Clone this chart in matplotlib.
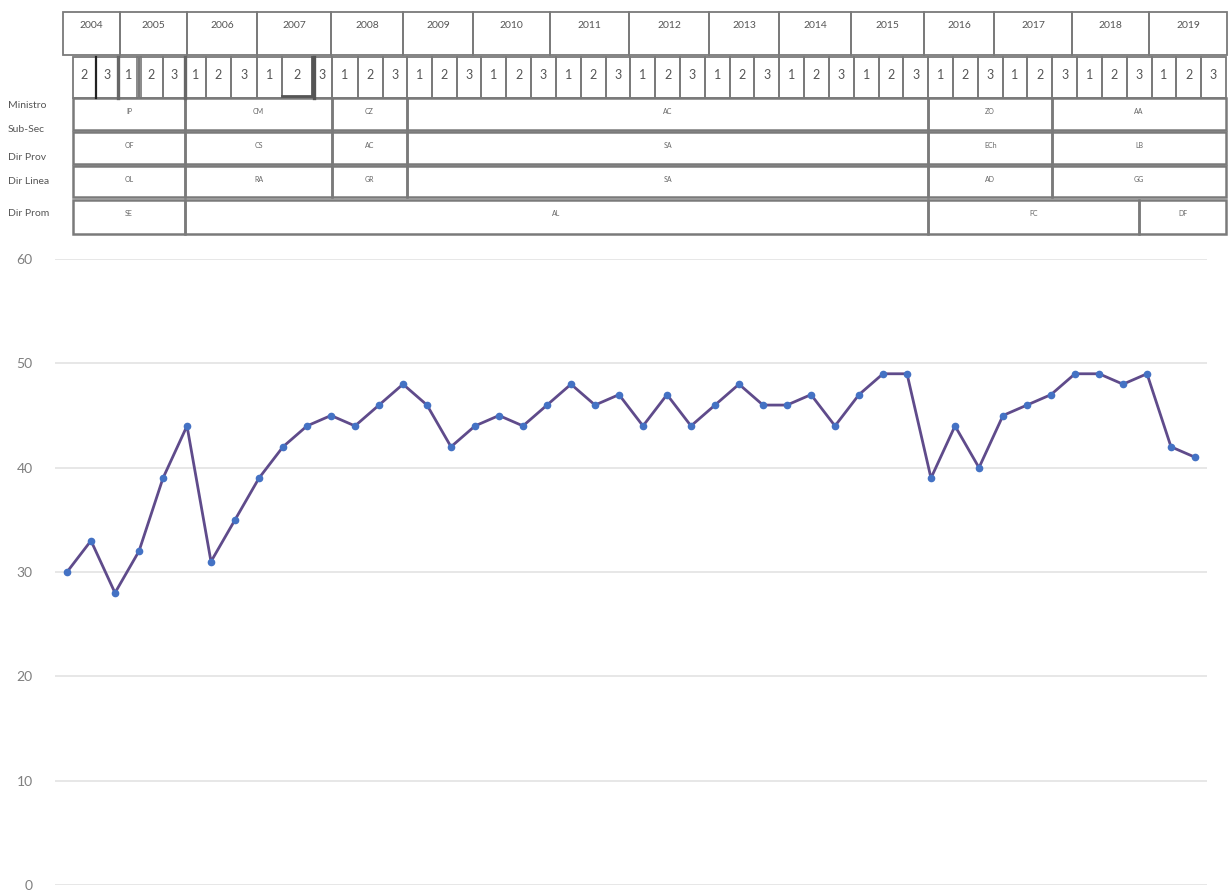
import numpy as np
import matplotlib
matplotlib.use("Agg")
import matplotlib.pyplot as plt
from matplotlib.patches import Rectangle

plt.rcParams['font.family'] = ['Lato', 'DejaVu Sans']

# quarterly series
values = [30, 33, 28, 32, 39, 44, 31, 35, 39, 42, 44, 45, 44, 46, 48, 46,
          42, 44, 45, 44, 46, 48, 46, 47, 44, 47, 44, 46, 48, 46, 46, 47,
          44, 47, 49, 49, 39, 44, 40, 45, 46, 47, 49, 49, 48, 49, 42, 41]
yticks = [0, 10, 20, 30, 40, 50, 60]

# header table contents
years = [str(y) for y in range(2004, 2020)]
quarters = ['2', '3'] + ['1', '2', '3'] * 15
row_labels = ['Ministro', 'Sub-Sec', 'Dir Prov', 'Dir Linea', 'Dir Prom']
ministro = ['IP', 'CM', 'CZ', 'AC', 'ZO', 'AA']
dir_prov = ['OF', 'CS', 'AC', 'SA', 'ECh', 'LB']
dir_linea = ['OL', 'RA', 'GR', 'SA', 'AD', 'GG']
dir_prom = ['SE', 'AL', 'FC', 'DF']
spans_top = [5, 6, 3, 21, 5, 7]          # tenure length in quarters
spans_prom = [5, 30, 8.5, 3.5]

W, H = 1228, 891
fig = plt.figure(figsize=(W / 100, H / 100), dpi=100)

# ---- line chart ----
ax = fig.add_axes([55 / W, 6 / H, 1152 / W, 626 / H])
x = np.arange(len(values))
ax.plot(x, values, color='#5f4b8b', lw=2.0, zorder=3)
ax.plot(x, values, 'o', color='#4472c4', ms=4.5, zorder=4)
ax.set_xlim(-0.5, len(values) - 0.5)
ax.set_ylim(0, 60)
ax.set_yticks(yticks)
ax.set_xticks([])
ax.grid(axis='y', color='#e3e3e3', lw=1.2)
ax.set_axisbelow(True)
for s in ax.spines.values():
    s.set_visible(False)
ax.tick_params(axis='y', length=0, pad=16, labelsize=10, labelcolor='#7f7f7f')

# ---- header table, drawn in pixel coordinates ----
tb = fig.add_axes([0, 0, 1, 1])
tb.set_xlim(0, W)
tb.set_ylim(H, 0)
tb.axis('off')

edge = '#7a7a7a'

def box(x0, x1, y0, y1, lw=1.3, ec=edge):
    tb.add_patch(Rectangle((x0, y0), x1 - x0, y1 - y0, fill=False,
                           ec=ec, lw=lw))

# year row
year_edges = [63, 120, 187, 257, 331, 403, 473, 550, 629, 709, 779, 851,
              924, 994, 1072, 1149, 1227]
for i, yr in enumerate(years):
    box(year_edges[i], year_edges[i + 1], 12, 55)
    tb.text((year_edges[i] + year_edges[i + 1]) / 2, 26, yr, ha='center',
            va='center', fontsize=7.5, color='#555555')

# quarter row: hand-sized cells up to 2008, even cells afterwards
qx = np.concatenate([[73, 96, 118, 139, 163, 185, 206, 231, 257, 282, 313,
                      332, 358, 383],
                     np.linspace(407, 1226, 34)])
for i, q in enumerate(quarters):
    box(qx[i], qx[i + 1], 57, 98)
    tb.text((qx[i] + qx[i + 1]) / 2, 75, q, ha='center', va='center',
            fontsize=9, color='#555555')
# a few heavier strokes in the quarter row
tb.plot([96, 96], [57, 98], color='#222222', lw=1.6)
tb.plot([118, 118], [57, 98], color='#666666', lw=2.4)
tb.plot([137, 137], [57, 98], color='#777777', lw=1.2)
tb.plot([141, 141], [57, 98], color='#777777', lw=1.2)
tb.plot([185, 185], [57, 98], color='#666666', lw=2.4)
tb.plot([282, 312, 312], [96, 96, 57], color='#555555', lw=2.0)
tb.plot([314, 314], [57, 98], color='#555555', lw=2.4)

def qpos(idx):
    return np.interp(idx, np.arange(len(qx)), qx)

def span_row(names, spans, y0, y1):
    start = 0
    for name, n in zip(names, spans):
        x0, x1 = qpos(start), qpos(start + n)
        box(x0, x1, y0, y1, lw=1.8)
        tb.text((x0 + x1) / 2, y0 + 13, name, ha='center', va='center',
                fontsize=5, color='#666666')
        start += n

span_row(ministro, spans_top, 98, 130)
span_row(dir_prov, spans_top, 132, 164)
span_row(dir_linea, spans_top, 166, 197)
span_row(dir_prom, spans_prom, 200, 234)

label_y = [105, 130, 157, 182, 213]
for lab, yy in zip(row_labels, label_y):
    tb.text(8, yy, lab, ha='left', va='center', fontsize=7.5, color='#555555')

fig.savefig('out.png', dpi=100)
